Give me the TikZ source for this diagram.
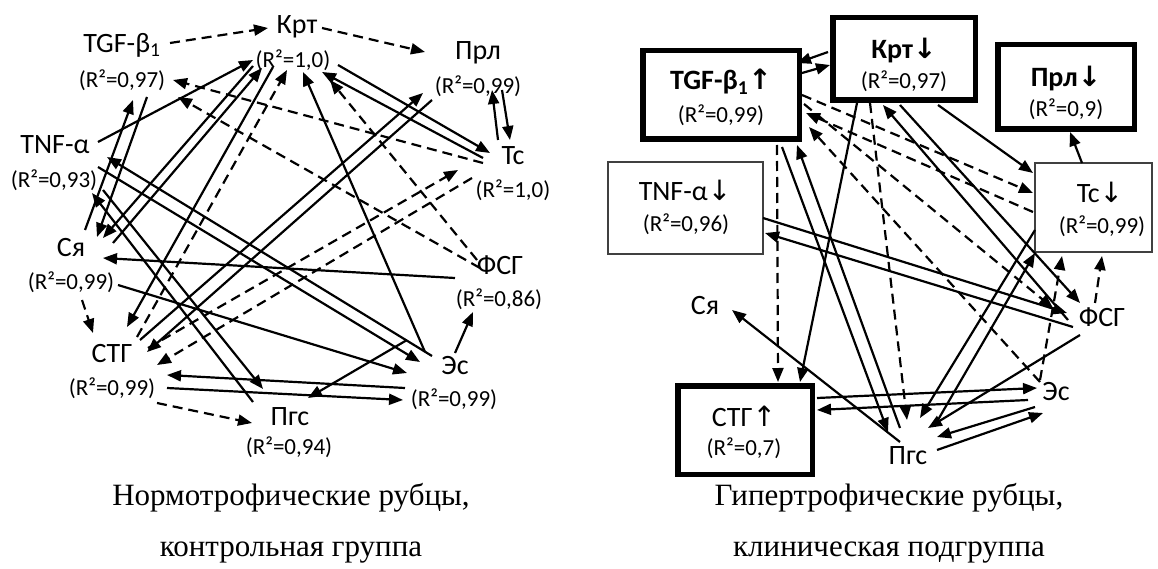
\documentclass[tikz,border=0pt]{standalone}
\usepackage{fontspec}
\setmainfont{Carlito}
\newfontfamily\capfont{Liberation Serif}
\newfontfamily\arrfont{DejaVu Sans}
\usetikzlibrary{arrows.meta}
\begin{document}
\begin{tikzpicture}[x=1pt,y=-1pt,
  lbl/.style={font=\fontsize{28}{30}\selectfont, inner sep=0pt},
  lblb/.style={font=\fontsize{28}{30}\selectfont\bfseries, inner sep=0pt},
  rsq/.style={font=\fontsize{23}{25}\selectfont, inner sep=0pt},
  edge/.style={line width=2.2pt, -{Triangle[length=14pt,width=11pt]}},
  dedge/.style={edge, dash pattern=on 10pt off 6pt},
  thickbox/.style={draw, line width=5.5pt, inner sep=0pt},
  thinbox/.style={draw=black!75, line width=1.2pt, inner sep=0pt},
  captxt/.style={font=\capfont\fontsize{31}{52}\selectfont, inner sep=0pt}
]
\useasboundingbox (0,0) rectangle (1158,569);

% ---------- left diagram nodes ----------
\node[lbl] (krt) at (297,27) {Крт};
\node[rsq] (krtR) at (293,60) {(R²=1,0)};
\node[lbl] (tgf) at (122,45) {TGF-β\textsubscript{1}};
\node[rsq] (tgfR) at (122,80) {(R²=0,97)};
\node[lbl] (prl) at (478,53) {Прл};
\node[rsq] (prlR) at (478,86) {(R²=0,99)};
\node[lbl] (tnf) at (55,145) {TNF-α};
\node[rsq] (tnfR) at (54,180) {(R²=0,93)};
\node[lbl] (ts) at (513,156) {Тс};
\node[rsq] (tsR) at (513,190) {(R²=1,0)};
\node[lbl] (sya) at (71,248) {Ся};
\node[rsq] (syaR) at (71,282) {(R²=0,99)};
\node[lbl] (fsg) at (500,265) {ФСГ};
\node[rsq] (fsgR) at (499,299) {(R²=0,86)};
\node[lbl] (stg) at (112,354) {СТГ};
\node[rsq] (stgR) at (112,388) {(R²=0,99)};
\node[lbl] (es) at (455,366) {Эс};
\node[rsq] (esR) at (454,399) {(R²=0,99)};
\node[lbl] (pgs) at (290,417) {Пгс};
\node[rsq] (pgsR) at (289,447) {(R²=0,94)};

% ---------- left diagram edges ----------
\draw[dedge] (170,43) -- (268,28);
\draw[dedge] (322,28) -- (425,52);
\draw[edge] (98,142) -- (253,60);
\draw[edge] (85,230) -- (133,100);
\draw[edge] (147,97) -- (97,237);
\draw[edge] (253,66) -- (103,238);
\draw[edge] (113,243) -- (262,68);
\draw[edge] (273,67) -- (127,327);
\draw[dedge] (137,337) -- (287,70);
\draw[edge] (140,340) -- (423,93);
\draw[edge] (432,100) -- (147,352);
\draw[dedge] (148,348) -- (458,170);
\draw[dedge] (472,178) -- (157,365);
\draw[dedge] (483,163) -- (173,80);
\draw[dedge] (480,268) -- (178,97);
\draw[dedge] (477,260) -- (330,80);
\draw[edge] (338,65) -- (490,153);
\draw[edge] (483,158) -- (322,72);
\draw[edge] (498,140) -- (492,90);
\draw[edge] (502,90) -- (510,140);
\draw[edge] (425,352) -- (303,72);
\draw[edge] (455,278) -- (103,258);
\draw[edge] (118,285) -- (407,373);
\draw[edge] (98,167) -- (420,362);
\draw[edge] (432,356) -- (107,157);
\draw[edge] (103,190) -- (263,389);
\draw[edge] (253,402) -- (92,193);
\draw[edge] (455,353) -- (473,312);
\draw[edge] (407,340) -- (308,398);
\draw[edge] (405,388) -- (167,375);
\draw[edge] (167,388) -- (403,400);
\draw[dedge] (157,403) -- (252,423);
\draw[dedge] (82,300) -- (93,333);

% ---------- right diagram nodes ----------
\node[thickbox, minimum width=156.5pt, minimum height=88.5pt] (tgfB) at (721,95) {};
\node[lblb] (tgf2) at (721,82) {TGF-β\textsubscript{1}{\arrfont ↑}};
\node[rsq] (tgf2R) at (721,115) {(R²=0,99)};
\node[thickbox, minimum width=142.5pt, minimum height=82.5pt] (krtB) at (904,59) {};
\node[lblb] (krt2) at (904,50) {Крт{\arrfont ↓}};
\node[rsq] (krt2R) at (904,81) {(R²=0,97)};
\node[thickbox, minimum width=136.5pt, minimum height=84.5pt] (prlB) at (1066,87) {};
\node[lblb] (prl2) at (1066,78) {Прл{\arrfont ↓}};
\node[rsq] (prl2R) at (1066,109) {(R²=0,9)};
\node[thinbox, minimum width=117pt, minimum height=89pt] (tsB) at (1093.5,207.5) {};
\node[lbl] (ts2) at (1100,192) {Тс{\arrfont ↓}};
\node[rsq] (ts2R) at (1102,226) {(R²=0,99)};
\node[thinbox, minimum width=155pt, minimum height=92pt] (tnfB) at (685.5,208) {};
\node[lbl] (tnf2) at (685,190) {TNF-α{\arrfont ↓}};
\node[rsq] (tnf2R) at (686,224) {(R²=0,96)};
\node[lbl] (sya2) at (705,306) {Ся};
\node[lbl] (fsg2) at (1102,317) {ФСГ};
\node[thickbox, minimum width=134.5pt, minimum height=88.5pt] (stgB) at (745,430) {};
\node[lbl] (stg2) at (744,416) {СТГ{\arrfont ↑}};
\node[rsq] (stg2R) at (744,448) {(R²=0,7)};
\node[lbl] (es2) at (1056,392) {Эс};
\node[lbl] (pgs2) at (908,456) {Пгс};

% ---------- right diagram edges ----------
\draw[edge] (828,52) -- (797,63);
\draw[edge] (802,73) -- (830,65);
\draw[edge] (938,105) -- (1033,173);
\draw[edge] (1082,163) -- (1070,132);
\draw[dedge] (802,95) -- (1033,193);
\draw[dedge] (1033,212) -- (806,113);
\draw[dedge] (804,104) -- (1053,308);
\draw[dedge] (1040,382) -- (809,127);
\draw[edge] (900,105) -- (1080,303);
\draw[edge] (1068,320) -- (883,105);
\draw[edge] (763,218) -- (1067,313);
\draw[edge] (1073,327) -- (765,233);
\draw[dedge] (1095,303) -- (1102,256);
\draw[dedge] (1040,380) -- (1062,256);
\draw[edge] (1035,230) -- (920,418);
\draw[edge] (935,425) -- (1035,253);
\draw[edge] (1080,335) -- (928,428);
\draw[edge] (1035,407) -- (937,437);
\draw[edge] (937,450) -- (1043,413);
\draw[edge] (817,398) -- (1037,388);
\draw[edge] (1028,400) -- (817,410);
\draw[dedge] (777,145) -- (778,382);
\draw[edge] (857,103) -- (800,382);
\draw[edge] (782,147) -- (888,432);
\draw[edge] (900,428) -- (797,145);
\draw[dedge] (870,103) -- (907,420);
\draw[edge] (900,442) -- (732,310);

% ---------- captions ----------
\node[captxt, anchor=base] (capL1) at (291,505) {Нормотрофические рубцы,};
\node[captxt, anchor=base] (capL2) at (291,556) {контрольная группа};
\node[captxt, anchor=base] (capR1) at (889,505) {Гипертрофические рубцы,};
\node[captxt, anchor=base] (capR2) at (889,556) {клиническая подгруппа};
\end{tikzpicture}
\end{document}
